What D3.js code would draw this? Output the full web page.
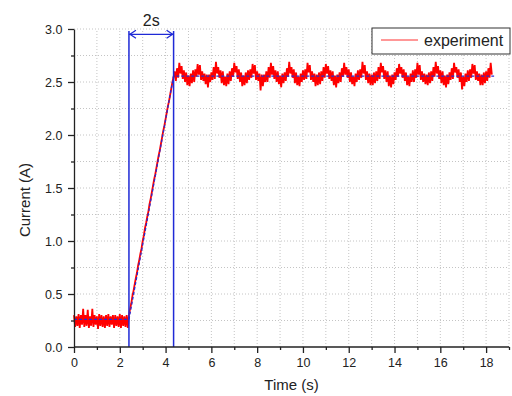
<!DOCTYPE html>
<html>
<head>
<meta charset="utf-8">
<script src="https://cdn.jsdelivr.net/npm/d3@7"></script>
<style>
  body { margin: 0; background: #fff; }
  text { font-family: "Liberation Sans", Arial, sans-serif; fill: #222; }
</style>
</head>
<body>
<svg id="chart"></svg>
<script>
// Data: sampled current, three segments, 0.05 s sample period
const dt = 0.05;

// baseline 0 .. 2.4 s
const baseStart = 0;
const baseValues = [
    0.30,0.19,0.29,0.20,0.31,0.18,0.30,0.21,0.36,0.19,
    0.30,0.20,0.35,0.18,0.29,0.20,0.36,0.19,0.30,0.21,
    0.29,0.17,0.31,0.20,0.30,0.19,0.29,0.18,0.30,0.20,
    0.31,0.19,0.29,0.21,0.30,0.18,0.30,0.20,0.29,0.19,
    0.31,0.18,0.30,0.20,0.29,0.19,0.30,0.18,0.30
];

// ramp 2.45 .. 4.35 s
const rampStart = 2.45;
const rampValues = [
    0.36,0.41,0.48,0.53,0.59,0.65,0.70,0.77,0.82,0.88,
    0.93,1.00,1.05,1.12,1.17,1.23,1.28,1.35,1.40,1.46,
    1.52,1.58,1.63,1.69,1.75,1.81,1.86,1.92,1.98,2.04,
    2.09,2.15,2.21,2.27,2.32,2.38,2.44,2.50,2.55
];

// steady state 4.40 .. 18.25 s
const steadyStart = 4.40;
const steadyValues = [
    2.60,2.51,2.63,2.54,2.68,2.58,2.65,2.53,2.61,2.50,2.59,2.47,2.56,2.46,2.58,2.49,
    2.61,2.50,2.62,2.55,2.67,2.57,2.66,2.52,2.60,2.51,2.58,2.48,2.57,2.45,2.57,2.50,
    2.59,2.52,2.64,2.53,2.69,2.58,2.64,2.54,2.61,2.49,2.60,2.47,2.55,2.46,2.58,2.48,
    2.60,2.51,2.63,2.55,2.68,2.59,2.65,2.53,2.62,2.50,2.59,2.46,2.56,2.47,2.59,2.49,
    2.61,2.52,2.62,2.54,2.67,2.58,2.66,2.52,2.60,2.51,2.58,2.42,2.57,2.46,2.57,2.50,
    2.60,2.50,2.64,2.54,2.68,2.57,2.65,2.53,2.61,2.50,2.60,2.48,2.56,2.45,2.58,2.49,
    2.59,2.51,2.63,2.55,2.69,2.58,2.64,2.54,2.62,2.49,2.59,2.47,2.55,2.46,2.58,2.50,
    2.61,2.52,2.62,2.53,2.68,2.59,2.66,2.52,2.60,2.50,2.58,2.46,2.57,2.47,2.59,2.48,
    2.60,2.51,2.64,2.54,2.67,2.58,2.65,2.53,2.61,2.51,2.60,2.47,2.56,2.45,2.57,2.49,
    2.59,2.50,2.63,2.55,2.68,2.57,2.64,2.54,2.62,2.50,2.59,2.48,2.55,2.46,2.58,2.50,
    2.61,2.52,2.62,2.54,2.69,2.58,2.66,2.52,2.60,2.49,2.58,2.47,2.57,2.47,2.59,2.49,
    2.60,2.51,2.64,2.53,2.68,2.59,2.65,2.53,2.61,2.50,2.60,2.46,2.56,2.45,2.57,2.48,
    2.59,2.52,2.63,2.55,2.67,2.58,2.64,2.54,2.62,2.51,2.59,2.47,2.55,2.46,2.58,2.50,
    2.61,2.50,2.62,2.54,2.68,2.57,2.66,2.52,2.60,2.50,2.58,2.48,2.57,2.47,2.59,2.49,
    2.60,2.51,2.64,2.55,2.69,2.58,2.65,2.53,2.61,2.49,2.60,2.47,2.56,2.45,2.57,2.48,
    2.59,2.52,2.63,2.53,2.68,2.59,2.64,2.54,2.62,2.50,2.59,2.43,2.55,2.46,2.58,2.50,
    2.61,2.51,2.62,2.54,2.67,2.58,2.66,2.52,2.60,2.51,2.58,2.47,2.57,2.47,2.59,2.49,
    2.60,2.51,2.63,2.54,2.68,2.57
];

// fitted profile (blue dashed)
const fitTimes = [0, 2.4, 4.35, 18.35];
const fitValues = [0.26, 0.26, 2.555, 2.555];

// marked interval
const markTimes = [2.4, 4.35];
const markTop = 2.98;
const arrowLevel = 2.95;
const markLabel = "2s";

// axis ticks
const xTicks = d3.range(0, 20, 1);
const xLabels = [0, 2, 4, 6, 8, 10, 12, 14, 16, 18];
const yTicks = d3.range(0, 3.01, 0.25);
const yLabels = [0, 0.5, 1.0, 1.5, 2.0, 2.5, 3.0];

// Dimensions
const width = 512;
const height = 396;
const margin = { top: 29, right: 3, bottom: 49, left: 74 };

const svg = d3.select("#chart")
    .attr("width", width)
    .attr("height", height);

const x = d3.scaleLinear()
    .domain([0, 19])
    .range([margin.left, width - margin.right]);

const y = d3.scaleLinear()
    .domain([0, 3])
    .range([height - margin.bottom, margin.top]);

// samples -> points
function toPoints(start, values) {
    return values.map((v, i) => ({ t: start + i * dt, v: v }));
}
const samples = toPoints(baseStart, baseValues)
    .concat(toPoints(rampStart, rampValues))
    .concat(toPoints(steadyStart, steadyValues));

// Grid (dotted)
const grid = svg.append("g");
grid.selectAll(".vg")
    .data(xTicks.filter(d => d > 0))
    .enter()
    .append("line")
    .attr("x1", d => x(d)).attr("x2", d => x(d))
    .attr("y1", y(0)).attr("y2", y(3))
    .attr("stroke", "#c4c4c4")
    .attr("stroke-dasharray", "1,2");
grid.selectAll(".hg")
    .data(yTicks.filter(d => d > 0))
    .enter()
    .append("line")
    .attr("x1", x(0)).attr("x2", x(19))
    .attr("y1", d => y(d)).attr("y2", d => y(d))
    .attr("stroke", "#c4c4c4")
    .attr("stroke-dasharray", "1,2");

// experiment line
const line = d3.line()
    .x(d => x(d.t))
    .y(d => y(d.v));

svg.append("path")
    .datum(samples)
    .attr("d", line)
    .attr("fill", "none")
    .attr("stroke", "#ff0000")
    .attr("stroke-width", 1.8);

// fit line
const fitLine = d3.line()
    .x(d => x(d[0]))
    .y(d => y(d[1]));

svg.append("path")
    .datum(fitTimes.map((t, i) => [t, fitValues[i]]))
    .attr("d", fitLine)
    .attr("fill", "none")
    .attr("stroke", "#2a2ad0")
    .attr("stroke-width", 1.3)
    .attr("stroke-dasharray", "3,2");

// marker lines and double arrow
const blue = "#1f2ad6";
svg.selectAll(".mark")
    .data(markTimes)
    .enter()
    .append("line")
    .attr("x1", d => x(d)).attr("x2", d => x(d))
    .attr("y1", y(0)).attr("y2", y(markTop))
    .attr("stroke", blue)
    .attr("stroke-width", 1.5);

const ax1 = x(markTimes[0]), ax2 = x(markTimes[1]), ay = y(arrowLevel);
svg.append("line")
    .attr("x1", ax1).attr("x2", ax2)
    .attr("y1", ay).attr("y2", ay)
    .attr("stroke", blue)
    .attr("stroke-width", 1.3);
svg.append("path")
    .attr("d", `M${ax1 + 7},${ay - 4}L${ax1 + 1},${ay}L${ax1 + 7},${ay + 4}M${ax2 - 7},${ay - 4}L${ax2 - 1},${ay}L${ax2 - 7},${ay + 4}`)
    .attr("fill", "none")
    .attr("stroke", blue)
    .attr("stroke-width", 1.3);

svg.append("text")
    .attr("x", (ax1 + ax2) / 2)
    .attr("y", ay - 8)
    .attr("text-anchor", "middle")
    .style("font-size", "16px")
    .text(markLabel);

// Axes
const xAxis = svg.append("g")
    .attr("transform", `translate(0,${y(0)})`)
    .call(d3.axisBottom(x).tickValues(xTicks).tickSizeOuter(0)
        .tickFormat(d => xLabels.includes(d) ? d : ""));
xAxis.selectAll(".tick line")
    .attr("y2", d => xLabels.includes(d) ? 6 : 3);
xAxis.select(".domain").attr("d", `M${x(0)},0H${x(19)}`);

const yAxis = svg.append("g")
    .attr("transform", `translate(${x(0)},0)`)
    .call(d3.axisLeft(y).tickValues(yTicks).tickSizeOuter(0)
        .tickFormat(d => yLabels.some(l => Math.abs(l - d) < 1e-6) ? d3.format(".1f")(d) : ""));
yAxis.selectAll(".tick line")
    .attr("x2", d => yLabels.some(l => Math.abs(l - d) < 1e-6) ? -6 : -3);

svg.selectAll(".domain, .tick line")
    .attr("stroke", "#222")
    .attr("stroke-width", 1.3);
svg.selectAll(".tick text")
    .style("font-size", "12.5px")
    .style("font-family", "'Liberation Sans', Arial, sans-serif")
    .attr("fill", "#222");
xAxis.selectAll(".tick text").attr("dy", "0.9em");
yAxis.selectAll(".tick text").attr("dx", "-0.2em");

// Axis titles
svg.append("text")
    .attr("x", (x(0) + x(19)) / 2)
    .attr("y", height - 6)
    .attr("text-anchor", "middle")
    .style("font-size", "15px")
    .text("Time (s)");

svg.append("text")
    .attr("transform", `translate(30,${(y(0) + y(3)) / 2 + 12}) rotate(-90)`)
    .attr("text-anchor", "middle")
    .style("font-size", "15px")
    .text("Current (A)");

// Legend
const legend = svg.append("g").attr("transform", "translate(372,28)");
legend.append("rect")
    .attr("width", 138).attr("height", 26)
    .attr("fill", "#fff")
    .attr("stroke", "#333")
    .attr("stroke-width", 1);
legend.append("line")
    .attr("x1", 9).attr("x2", 46)
    .attr("y1", 12).attr("y2", 12)
    .attr("stroke", "#ff3030")
    .attr("stroke-width", 1);
legend.append("text")
    .attr("x", 52).attr("y", 18)
    .style("font-size", "16px")
    .text("experiment");
</script>
</body>
</html>
